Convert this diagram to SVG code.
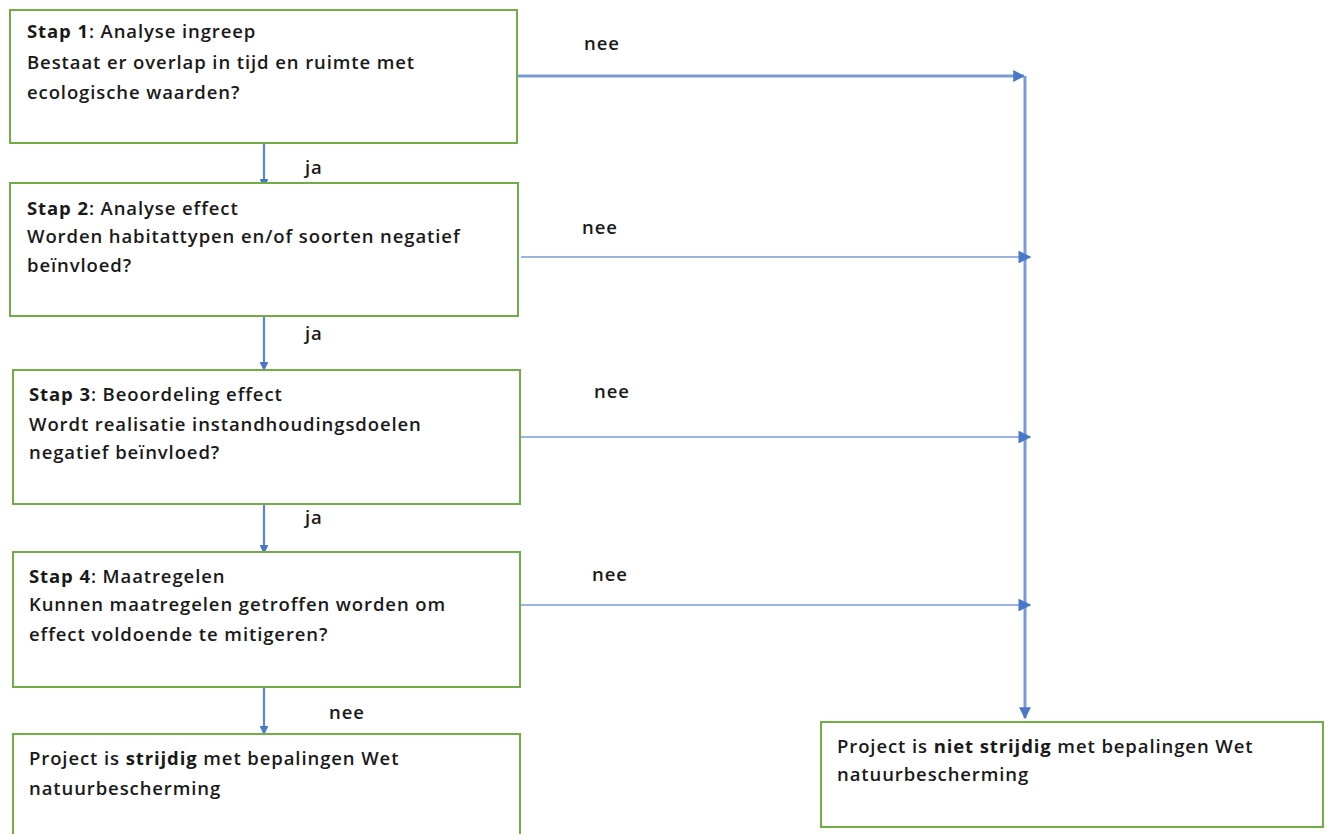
<svg xmlns="http://www.w3.org/2000/svg" width="1335" height="834" viewBox="0 0 1335 834">
<defs>
<marker id="ah" viewBox="0 0 10 10" refX="9" refY="5" markerWidth="4" markerHeight="4" orient="auto" markerUnits="strokeWidth">
<path d="M0,0 L10,5 L0,10 Z" fill="#4a78c8"/>
</marker>
<marker id="ah2" viewBox="0 0 10 10" refX="9" refY="5" markerWidth="8" markerHeight="8" orient="auto" markerUnits="strokeWidth">
<path d="M0,0 L10,5 L0,10 Z" fill="#4a78c8"/>
</marker>
<style>
.box{fill:#fff;stroke:#70ad47;stroke-width:2}
.t{font-family:"Open Sans","Liberation Sans",sans-serif;font-size:18.5px;font-weight:600;letter-spacing:0.9px;fill:#1a1a1a}
.b{font-weight:700}
.c{fill:none;stroke:#7a9bd8;stroke-width:3}
.c2{fill:none;stroke:#7a9bd8;stroke-width:1.6}
.v{fill:none;stroke:#5b85cf;stroke-width:2.2}
.lbl{font-family:"Open Sans","Liberation Sans",sans-serif;font-size:18.5px;font-weight:600;letter-spacing:0.9px;fill:#1a1a1a}
</style>
</defs>
<rect width="1335" height="834" fill="#fff"/>
<g id="connectors">
<line class="c" x1="516" y1="76" x2="1024" y2="76" marker-end="url(#ah)"/>
<line class="c" x1="1025" y1="76" x2="1025" y2="718" marker-end="url(#ah)"/>
<line class="c2" x1="521" y1="257" x2="1030" y2="257" marker-end="url(#ah2)"/>
<line class="c2" x1="521" y1="437" x2="1030" y2="437" marker-end="url(#ah2)"/>
<line class="c2" x1="521" y1="605" x2="1030" y2="605" marker-end="url(#ah2)"/>
<line class="v" x1="264" y1="144" x2="264" y2="187" marker-end="url(#ah)"/>
<line class="v" x1="264" y1="311" x2="264" y2="370" marker-end="url(#ah)"/>
<line class="v" x1="264" y1="500" x2="264" y2="553" marker-end="url(#ah)"/>
<line class="v" x1="264" y1="685" x2="264" y2="734" marker-end="url(#ah)"/>
<text class="lbl" x="584" y="50">nee</text>
<text class="lbl" x="582" y="234">nee</text>
<text class="lbl" x="594" y="398">nee</text>
<text class="lbl" x="592" y="581">nee</text>
<text class="lbl" x="329" y="719">nee</text>
<text class="lbl" x="305" y="174">ja</text>
<text class="lbl" x="305" y="340">ja</text>
<text class="lbl" x="305" y="524">ja</text>
</g>
<g id="stap1">
<rect class="box" x="10" y="10" width="507" height="133"/>
<text class="t" x="27" y="38"><tspan class="b">Stap 1</tspan>: Analyse ingreep</text>
<text class="t" x="27" y="69">Bestaat er overlap in tijd en ruimte met</text>
<text class="t" x="27" y="99">ecologische waarden?</text>
</g>
<g id="stap2">
<rect class="box" x="10" y="183" width="508" height="133"/>
<text class="t" x="27" y="215"><tspan class="b">Stap 2</tspan>: Analyse effect</text>
<text class="t" x="27" y="243">Worden habitattypen en/of soorten negatief</text>
<text class="t" x="27" y="272">beïnvloed?</text>
</g>
<g id="stap3">
<rect class="box" x="13" y="370" width="507" height="134"/>
<text class="t" x="29" y="401"><tspan class="b">Stap 3</tspan>: Beoordeling effect</text>
<text class="t" x="29" y="431">Wordt realisatie instandhoudingsdoelen</text>
<text class="t" x="29" y="459">negatief beïnvloed?</text>
</g>
<g id="stap4">
<rect class="box" x="13" y="552" width="507" height="135"/>
<text class="t" x="29" y="583"><tspan class="b">Stap 4</tspan>: Maatregelen</text>
<text class="t" x="29" y="611">Kunnen maatregelen getroffen worden om</text>
<text class="t" x="29" y="641">effect voldoende te mitigeren?</text>
</g>
<g id="strijdig">
<rect class="box" x="13" y="734" width="507" height="110"/>
<text class="t" x="29" y="765">Project is <tspan class="b">strijdig</tspan> met bepalingen Wet</text>
<text class="t" x="29" y="795">natuurbescherming</text>
</g>
<g id="niet-strijdig">
<rect class="box" x="821" y="722" width="502" height="105"/>
<text class="t" x="837" y="753">Project is <tspan class="b">niet strijdig</tspan> met bepalingen Wet</text>
<text class="t" x="837" y="781">natuurbescherming</text>
</g>
</svg>
